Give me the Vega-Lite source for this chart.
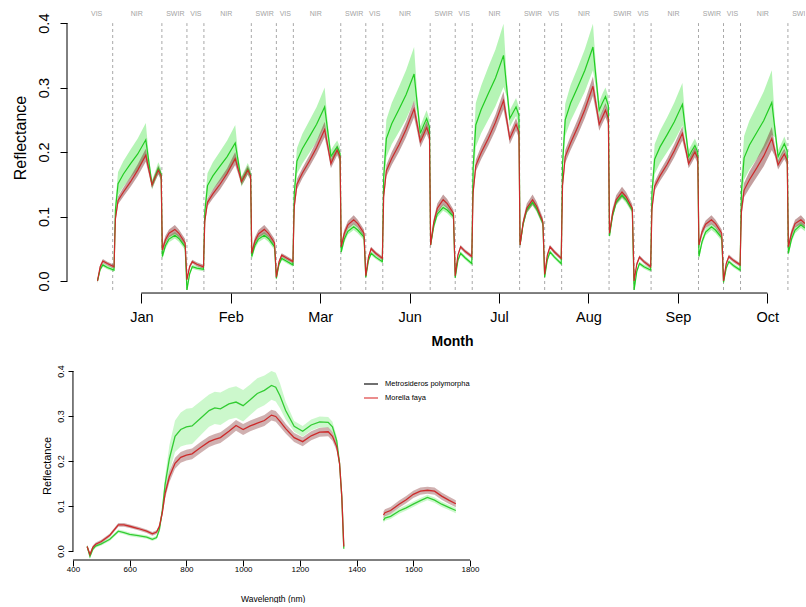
{
"$schema":"https://vega.github.io/schema/vega-lite/v6.json",
"padding":{"left":12,"top":7,"right":0,"bottom":0},
"spacing":15,
"config":{"view":{"stroke":null},"axis":{"labelFont":"Liberation Sans","titleFont":"Liberation Sans","labelColor":"#000","titleColor":"#000","tickColor":"#000","grid":false,"titleFontWeight":"normal"},"text":{"font":"Liberation Sans"}},
"vconcat":[
{
"width":738,"height":283,
"layer":[
{"data":{"values":[{"b":-0.32},{"b":0.23},{"b":0.51},{"b":0.70},{"b":1.23},{"b":1.51},{"b":1.70},{"b":2.23},{"b":2.51},{"b":2.70},{"b":3.23},{"b":3.51},{"b":3.70},{"b":4.23},{"b":4.51},{"b":4.70},{"b":5.23},{"b":5.51},{"b":5.70},{"b":6.23},{"b":6.51},{"b":6.70},{"b":7.23}]},
"mark":{"type":"rule","color":"#a8a8a8","strokeDash":[3,3],"strokeWidth":1},
"encoding":{"x":{"field":"b","type":"quantitative","title":"Month","scale":{"domain":[-0.831,7.421],"nice":false,"zero":false}},"y":{"datum":-0.014,"type":"quantitative","scale":{"domain":[-0.014,0.425],"nice":false,"zero":false}},"y2":{"datum":0.4}}},
{"data":{"values":[{"t":"VIS","p":-0.50},{"t":"NIR","p":-0.05},{"t":"SWIR","p":0.38},{"t":"VIS","p":0.61},{"t":"NIR","p":0.95},{"t":"SWIR","p":1.38},{"t":"VIS","p":1.61},{"t":"NIR","p":1.95},{"t":"SWIR","p":2.38},{"t":"VIS","p":2.61},{"t":"NIR","p":2.95},{"t":"SWIR","p":3.38},{"t":"VIS","p":3.61},{"t":"NIR","p":3.95},{"t":"SWIR","p":4.38},{"t":"VIS","p":4.61},{"t":"NIR","p":4.95},{"t":"SWIR","p":5.38},{"t":"VIS","p":5.61},{"t":"NIR","p":5.95},{"t":"SWIR","p":6.38},{"t":"VIS","p":6.61},{"t":"NIR","p":6.95},{"t":"SWIR","p":7.38}]},
"mark":{"type":"text","color":"#a3a3a3","fontSize":7,"baseline":"middle","clip":true},
"encoding":{"x":{"field":"p","type":"quantitative","title":"Month","scale":{"domain":[-0.831,7.421],"nice":false,"zero":false}},"y":{"datum":0.414,"type":"quantitative","scale":{"domain":[-0.014,0.425],"nice":false,"zero":false}},"text":{"field":"t"}}},
{"data":{"values":[
{"x":-0.49,"r":0.000,"re":0.003,"g":0.000,"ge":0.003},
{"x":-0.46,"r":0.022,"re":0.003,"g":0.018,"ge":0.003},
{"x":-0.43,"r":0.031,"re":0.003,"g":0.025,"ge":0.003},
{"x":-0.38,"r":0.027,"re":0.003,"g":0.021,"ge":0.003},
{"x":-0.305,"r":0.022,"re":0.003,"g":0.017,"ge":0.003},
{"x":-0.29,"r":0.096,"re":0.005,"g":0.110,"ge":0.013},
{"x":-0.26,"r":0.125,"re":0.006,"g":0.151,"ge":0.018},
{"x":-0.20,"r":0.138,"re":0.007,"g":0.166,"ge":0.020},
{"x":-0.12,"r":0.154,"re":0.008,"g":0.182,"ge":0.022},
{"x":-0.04,"r":0.172,"re":0.009,"g":0.197,"ge":0.024},
{"x":0.05,"r":0.195,"re":0.010,"g":0.219,"ge":0.026},
{"x":0.085,"r":0.172,"re":0.007,"g":0.184,"ge":0.009},
{"x":0.12,"r":0.149,"re":0.006,"g":0.149,"ge":0.007},
{"x":0.155,"r":0.161,"re":0.006,"g":0.162,"ge":0.008},
{"x":0.19,"r":0.172,"re":0.007,"g":0.175,"ge":0.009},
{"x":0.222,"r":0.163,"re":0.007,"g":0.166,"ge":0.008},
{"x":0.235,"r":0.048,"re":0.006,"g":0.038,"ge":0.005},
{"x":0.27,"r":0.064,"re":0.006,"g":0.055,"ge":0.005},
{"x":0.31,"r":0.074,"re":0.006,"g":0.065,"ge":0.005},
{"x":0.375,"r":0.080,"re":0.007,"g":0.071,"ge":0.005},
{"x":0.42,"r":0.074,"re":0.006,"g":0.066,"ge":0.005},
{"x":0.49,"r":0.059,"re":0.006,"g":0.053,"ge":0.005},
{"x":0.51,"r":0.002,"re":0.003,"g":-0.014,"ge":0.003},
{"x":0.54,"r":0.022,"re":0.003,"g":0.011,"ge":0.003},
{"x":0.57,"r":0.030,"re":0.003,"g":0.022,"ge":0.003},
{"x":0.62,"r":0.026,"re":0.003,"g":0.020,"ge":0.003},
{"x":0.695,"r":0.022,"re":0.003,"g":0.018,"ge":0.003},
{"x":0.71,"r":0.093,"re":0.005,"g":0.107,"ge":0.014},
{"x":0.74,"r":0.122,"re":0.006,"g":0.148,"ge":0.019},
{"x":0.80,"r":0.135,"re":0.007,"g":0.163,"ge":0.021},
{"x":0.88,"r":0.150,"re":0.008,"g":0.178,"ge":0.023},
{"x":0.96,"r":0.167,"re":0.008,"g":0.193,"ge":0.025},
{"x":1.05,"r":0.190,"re":0.010,"g":0.214,"ge":0.028},
{"x":1.085,"r":0.172,"re":0.007,"g":0.184,"ge":0.009},
{"x":1.12,"r":0.154,"re":0.006,"g":0.154,"ge":0.008},
{"x":1.155,"r":0.163,"re":0.007,"g":0.164,"ge":0.008},
{"x":1.19,"r":0.172,"re":0.007,"g":0.174,"ge":0.009},
{"x":1.222,"r":0.163,"re":0.007,"g":0.165,"ge":0.008},
{"x":1.235,"r":0.043,"re":0.006,"g":0.038,"ge":0.005},
{"x":1.27,"r":0.062,"re":0.006,"g":0.055,"ge":0.005},
{"x":1.31,"r":0.073,"re":0.006,"g":0.065,"ge":0.005},
{"x":1.375,"r":0.080,"re":0.007,"g":0.071,"ge":0.005},
{"x":1.42,"r":0.074,"re":0.006,"g":0.066,"ge":0.005},
{"x":1.49,"r":0.059,"re":0.006,"g":0.053,"ge":0.005},
{"x":1.51,"r":0.006,"re":0.003,"g":0.004,"ge":0.003},
{"x":1.54,"r":0.030,"re":0.003,"g":0.026,"ge":0.003},
{"x":1.57,"r":0.040,"re":0.003,"g":0.035,"ge":0.003},
{"x":1.62,"r":0.036,"re":0.003,"g":0.031,"ge":0.003},
{"x":1.695,"r":0.030,"re":0.003,"g":0.025,"ge":0.003},
{"x":1.71,"r":0.115,"re":0.006,"g":0.135,"ge":0.015},
{"x":1.74,"r":0.150,"re":0.008,"g":0.186,"ge":0.020},
{"x":1.80,"r":0.167,"re":0.008,"g":0.205,"ge":0.023},
{"x":1.88,"r":0.186,"re":0.009,"g":0.224,"ge":0.025},
{"x":1.96,"r":0.207,"re":0.010,"g":0.243,"ge":0.027},
{"x":2.05,"r":0.235,"re":0.012,"g":0.270,"ge":0.030},
{"x":2.085,"r":0.209,"re":0.008,"g":0.232,"ge":0.012},
{"x":2.12,"r":0.182,"re":0.007,"g":0.193,"ge":0.010},
{"x":2.155,"r":0.193,"re":0.008,"g":0.201,"ge":0.010},
{"x":2.19,"r":0.203,"re":0.008,"g":0.208,"ge":0.010},
{"x":2.222,"r":0.193,"re":0.008,"g":0.198,"ge":0.010},
{"x":2.235,"r":0.053,"re":0.006,"g":0.045,"ge":0.005},
{"x":2.27,"r":0.074,"re":0.006,"g":0.065,"ge":0.005},
{"x":2.31,"r":0.087,"re":0.006,"g":0.077,"ge":0.005},
{"x":2.375,"r":0.095,"re":0.007,"g":0.084,"ge":0.005},
{"x":2.42,"r":0.089,"re":0.006,"g":0.079,"ge":0.005},
{"x":2.49,"r":0.074,"re":0.006,"g":0.068,"ge":0.005},
{"x":2.51,"r":0.008,"re":0.003,"g":0.006,"ge":0.003},
{"x":2.54,"r":0.037,"re":0.003,"g":0.032,"ge":0.003},
{"x":2.57,"r":0.050,"re":0.003,"g":0.043,"ge":0.003},
{"x":2.62,"r":0.043,"re":0.003,"g":0.037,"ge":0.003},
{"x":2.695,"r":0.035,"re":0.003,"g":0.030,"ge":0.003},
{"x":2.71,"r":0.131,"re":0.007,"g":0.161,"ge":0.021},
{"x":2.74,"r":0.171,"re":0.009,"g":0.221,"ge":0.029},
{"x":2.80,"r":0.190,"re":0.010,"g":0.244,"ge":0.032},
{"x":2.88,"r":0.211,"re":0.011,"g":0.266,"ge":0.035},
{"x":2.96,"r":0.235,"re":0.012,"g":0.289,"ge":0.038},
{"x":3.05,"r":0.267,"re":0.013,"g":0.321,"ge":0.042},
{"x":3.085,"r":0.242,"re":0.010,"g":0.275,"ge":0.014},
{"x":3.12,"r":0.216,"re":0.009,"g":0.229,"ge":0.011},
{"x":3.155,"r":0.227,"re":0.009,"g":0.241,"ge":0.012},
{"x":3.19,"r":0.238,"re":0.010,"g":0.252,"ge":0.013},
{"x":3.222,"r":0.226,"re":0.009,"g":0.239,"ge":0.012},
{"x":3.235,"r":0.056,"re":0.006,"g":0.056,"ge":0.005},
{"x":3.27,"r":0.091,"re":0.006,"g":0.085,"ge":0.005},
{"x":3.31,"r":0.113,"re":0.007,"g":0.104,"ge":0.005},
{"x":3.375,"r":0.126,"re":0.008,"g":0.114,"ge":0.005},
{"x":3.42,"r":0.120,"re":0.007,"g":0.110,"ge":0.005},
{"x":3.49,"r":0.105,"re":0.006,"g":0.100,"ge":0.005},
{"x":3.51,"r":0.008,"re":0.003,"g":0.005,"ge":0.003},
{"x":3.54,"r":0.040,"re":0.003,"g":0.032,"ge":0.003},
{"x":3.57,"r":0.053,"re":0.003,"g":0.043,"ge":0.003},
{"x":3.62,"r":0.046,"re":0.003,"g":0.036,"ge":0.003},
{"x":3.695,"r":0.038,"re":0.003,"g":0.027,"ge":0.003},
{"x":3.71,"r":0.137,"re":0.007,"g":0.175,"ge":0.025},
{"x":3.74,"r":0.179,"re":0.009,"g":0.242,"ge":0.034},
{"x":3.80,"r":0.199,"re":0.010,"g":0.266,"ge":0.037},
{"x":3.88,"r":0.221,"re":0.011,"g":0.291,"ge":0.041},
{"x":3.96,"r":0.246,"re":0.012,"g":0.315,"ge":0.044},
{"x":4.05,"r":0.280,"re":0.014,"g":0.350,"ge":0.049},
{"x":4.085,"r":0.251,"re":0.010,"g":0.301,"ge":0.015},
{"x":4.12,"r":0.221,"re":0.009,"g":0.252,"ge":0.013},
{"x":4.155,"r":0.232,"re":0.009,"g":0.261,"ge":0.013},
{"x":4.19,"r":0.243,"re":0.010,"g":0.270,"ge":0.014},
{"x":4.222,"r":0.231,"re":0.009,"g":0.257,"ge":0.013},
{"x":4.235,"r":0.056,"re":0.006,"g":0.056,"ge":0.005},
{"x":4.27,"r":0.091,"re":0.006,"g":0.089,"ge":0.005},
{"x":4.31,"r":0.113,"re":0.007,"g":0.110,"ge":0.005},
{"x":4.375,"r":0.126,"re":0.008,"g":0.122,"ge":0.005},
{"x":4.42,"r":0.116,"re":0.007,"g":0.112,"ge":0.005},
{"x":4.49,"r":0.092,"re":0.006,"g":0.090,"ge":0.005},
{"x":4.51,"r":0.010,"re":0.003,"g":0.006,"ge":0.003},
{"x":4.54,"r":0.040,"re":0.003,"g":0.033,"ge":0.003},
{"x":4.57,"r":0.053,"re":0.003,"g":0.045,"ge":0.003},
{"x":4.62,"r":0.045,"re":0.003,"g":0.037,"ge":0.003},
{"x":4.695,"r":0.035,"re":0.003,"g":0.027,"ge":0.003},
{"x":4.71,"r":0.148,"re":0.007,"g":0.182,"ge":0.018},
{"x":4.74,"r":0.193,"re":0.010,"g":0.250,"ge":0.025},
{"x":4.80,"r":0.214,"re":0.011,"g":0.276,"ge":0.028},
{"x":4.88,"r":0.239,"re":0.012,"g":0.301,"ge":0.030},
{"x":4.96,"r":0.266,"re":0.013,"g":0.327,"ge":0.033},
{"x":5.05,"r":0.302,"re":0.015,"g":0.363,"ge":0.036},
{"x":5.085,"r":0.273,"re":0.011,"g":0.314,"ge":0.016},
{"x":5.12,"r":0.243,"re":0.010,"g":0.265,"ge":0.013},
{"x":5.155,"r":0.254,"re":0.010,"g":0.276,"ge":0.014},
{"x":5.19,"r":0.265,"re":0.011,"g":0.286,"ge":0.014},
{"x":5.222,"r":0.252,"re":0.010,"g":0.272,"ge":0.014},
{"x":5.235,"r":0.074,"re":0.006,"g":0.070,"ge":0.005},
{"x":5.27,"r":0.106,"re":0.007,"g":0.102,"ge":0.005},
{"x":5.31,"r":0.126,"re":0.007,"g":0.122,"ge":0.005},
{"x":5.375,"r":0.138,"re":0.008,"g":0.133,"ge":0.005},
{"x":5.42,"r":0.131,"re":0.007,"g":0.126,"ge":0.005},
{"x":5.49,"r":0.113,"re":0.006,"g":0.110,"ge":0.005},
{"x":5.51,"r":0.000,"re":0.003,"g":-0.014,"ge":0.003},
{"x":5.54,"r":0.026,"re":0.003,"g":0.015,"ge":0.003},
{"x":5.57,"r":0.037,"re":0.003,"g":0.027,"ge":0.003},
{"x":5.62,"r":0.030,"re":0.003,"g":0.022,"ge":0.003},
{"x":5.695,"r":0.022,"re":0.003,"g":0.017,"ge":0.003},
{"x":5.71,"r":0.112,"re":0.006,"g":0.137,"ge":0.016},
{"x":5.74,"r":0.147,"re":0.007,"g":0.189,"ge":0.023},
{"x":5.80,"r":0.163,"re":0.008,"g":0.208,"ge":0.025},
{"x":5.88,"r":0.181,"re":0.009,"g":0.227,"ge":0.027},
{"x":5.96,"r":0.202,"re":0.010,"g":0.247,"ge":0.030},
{"x":6.05,"r":0.229,"re":0.011,"g":0.274,"ge":0.033},
{"x":6.085,"r":0.206,"re":0.008,"g":0.234,"ge":0.012},
{"x":6.12,"r":0.182,"re":0.007,"g":0.193,"ge":0.010},
{"x":6.155,"r":0.191,"re":0.008,"g":0.202,"ge":0.010},
{"x":6.19,"r":0.200,"re":0.008,"g":0.210,"ge":0.011},
{"x":6.222,"r":0.190,"re":0.008,"g":0.200,"ge":0.010},
{"x":6.235,"r":0.056,"re":0.006,"g":0.038,"ge":0.005},
{"x":6.27,"r":0.076,"re":0.006,"g":0.061,"ge":0.005},
{"x":6.31,"r":0.088,"re":0.006,"g":0.076,"ge":0.005},
{"x":6.375,"r":0.095,"re":0.007,"g":0.084,"ge":0.005},
{"x":6.42,"r":0.089,"re":0.006,"g":0.079,"ge":0.005},
{"x":6.49,"r":0.074,"re":0.006,"g":0.067,"ge":0.005},
{"x":6.51,"r":0.000,"re":0.003,"g":-0.002,"ge":0.003},
{"x":6.54,"r":0.027,"re":0.003,"g":0.020,"ge":0.003},
{"x":6.57,"r":0.038,"re":0.003,"g":0.030,"ge":0.003},
{"x":6.62,"r":0.032,"re":0.003,"g":0.024,"ge":0.003},
{"x":6.695,"r":0.025,"re":0.003,"g":0.017,"ge":0.003},
{"x":6.71,"r":0.108,"re":0.009,"g":0.139,"ge":0.025},
{"x":6.74,"r":0.141,"re":0.011,"g":0.191,"ge":0.034},
{"x":6.80,"r":0.157,"re":0.013,"g":0.211,"ge":0.038},
{"x":6.88,"r":0.175,"re":0.014,"g":0.230,"ge":0.041},
{"x":6.96,"r":0.194,"re":0.016,"g":0.249,"ge":0.045},
{"x":7.05,"r":0.221,"re":0.018,"g":0.277,"ge":0.050},
{"x":7.085,"r":0.201,"re":0.008,"g":0.235,"ge":0.012},
{"x":7.12,"r":0.180,"re":0.007,"g":0.193,"ge":0.010},
{"x":7.155,"r":0.189,"re":0.008,"g":0.203,"ge":0.010},
{"x":7.19,"r":0.197,"re":0.008,"g":0.213,"ge":0.011},
{"x":7.222,"r":0.187,"re":0.007,"g":0.202,"ge":0.010},
{"x":7.235,"r":0.053,"re":0.006,"g":0.043,"ge":0.005},
{"x":7.27,"r":0.074,"re":0.006,"g":0.065,"ge":0.005},
{"x":7.31,"r":0.089,"re":0.006,"g":0.079,"ge":0.005},
{"x":7.375,"r":0.095,"re":0.007,"g":0.087,"ge":0.005},
{"x":7.42,"r":0.089,"re":0.006,"g":0.082,"ge":0.005}
]},
"layer":[
{"mark":{"type":"errorband","color":"#5ce65c","opacity":0.45,"clip":true},
"encoding":{"x":{"field":"x","type":"quantitative","title":"Month","scale":{"domain":[-0.831,7.421],"nice":false,"zero":false}},"y":{"field":"g","type":"quantitative","title":"Reflectance","scale":{"domain":[-0.014,0.425],"nice":false,"zero":false}},"yError":{"field":"ge"}}},
{"mark":{"type":"errorband","color":"#7a2a2a","opacity":0.45,"clip":true},
"encoding":{"x":{"field":"x","type":"quantitative","title":"Month","scale":{"domain":[-0.831,7.421],"nice":false,"zero":false}},"y":{"field":"r","type":"quantitative","title":"Reflectance","scale":{"domain":[-0.014,0.425],"nice":false,"zero":false}},"yError":{"field":"re"}}},
{"mark":{"type":"line","color":"#22cc22","strokeWidth":1.2,"clip":true},
"encoding":{"x":{"field":"x","type":"quantitative","title":"Month","scale":{"domain":[-0.831,7.421],"nice":false,"zero":false},
"axis":{"title":"Month","values":[0,1,2,3,4,5,6,7],"labelExpr":"['Jan','Feb','Mar','Jun','Jul','Aug','Sep','Oct'][datum.value]","domain":false,"tickSize":10,"offset":3,"labelFontSize":14.5,"labelPadding":7,"labelFlush":false,"labelOverlap":false,"titleFontSize":14,"titleFontWeight":"bold","titlePadding":11,"titleX":385}},
"y":{"field":"g","type":"quantitative","title":"Reflectance","scale":{"domain":[-0.014,0.425],"nice":false,"zero":false},
"axis":{"title":"Reflectance","values":[0,0.1,0.2,0.3,0.4],"format":".1f","domain":false,"tickSize":7,"labelAngle":-90,"labelAlign":"center","labelBaseline":"bottom","labelFontSize":14.5,"labelPadding":9,"titleFontSize":16,"titlePadding":8,"titleY":130.5,"minExtent":31,"maxExtent":31}}}},
{"mark":{"type":"line","color":"#cc2a2a","strokeWidth":1.2,"clip":true},
"encoding":{"x":{"field":"x","type":"quantitative","title":"Month","scale":{"domain":[-0.831,7.421],"nice":false,"zero":false}},"y":{"field":"r","type":"quantitative","title":"Reflectance","scale":{"domain":[-0.014,0.425],"nice":false,"zero":false}}}}
]},
{"data":{"values":[{}]},"mark":{"type":"rule","color":"#000","strokeWidth":1},
"encoding":{"x":{"datum":0,"type":"quantitative","scale":{"domain":[-0.831,7.421],"nice":false,"zero":false}},"x2":{"datum":7},"y":{"datum":-0.0187,"type":"quantitative","scale":{"domain":[-0.014,0.425],"nice":false,"zero":false}}}},
{"data":{"values":[{}]},"mark":{"type":"rule","color":"#000","strokeWidth":1},
"encoding":{"x":{"datum":-0.831,"type":"quantitative","scale":{"domain":[-0.831,7.421],"nice":false,"zero":false}},"y":{"datum":0,"type":"quantitative","scale":{"domain":[-0.014,0.425],"nice":false,"zero":false}},"y2":{"datum":0.4}}}
]
},
{
"width":403,"height":189,
"layer":[
{"data":{"values":[
{"w":450,"s":"a","r":0.010,"re":0.004,"g":0.010,"ge":0.004},
{"w":460,"s":"a","r":-0.008,"re":0.004,"g":-0.012,"ge":0.004},
{"w":470,"s":"a","r":0.008,"re":0.004,"g":0.004,"ge":0.004},
{"w":480,"s":"a","r":0.015,"re":0.004,"g":0.011,"ge":0.004},
{"w":500,"s":"a","r":0.021,"re":0.004,"g":0.016,"ge":0.004},
{"w":530,"s":"a","r":0.035,"re":0.004,"g":0.026,"ge":0.004},
{"w":560,"s":"a","r":0.058,"re":0.004,"g":0.044,"ge":0.004},
{"w":580,"s":"a","r":0.058,"re":0.004,"g":0.041,"ge":0.004},
{"w":600,"s":"a","r":0.055,"re":0.004,"g":0.037,"ge":0.004},
{"w":630,"s":"a","r":0.050,"re":0.004,"g":0.034,"ge":0.004},
{"w":660,"s":"a","r":0.044,"re":0.004,"g":0.031,"ge":0.004},
{"w":680,"s":"a","r":0.038,"re":0.004,"g":0.026,"ge":0.004},
{"w":695,"s":"a","r":0.042,"re":0.004,"g":0.030,"ge":0.004},
{"w":705,"s":"a","r":0.055,"re":0.005,"g":0.048,"ge":0.006},
{"w":715,"s":"a","r":0.085,"re":0.008,"g":0.090,"ge":0.010},
{"w":725,"s":"a","r":0.128,"re":0.010,"g":0.148,"ge":0.018},
{"w":740,"s":"a","r":0.165,"re":0.012,"g":0.205,"ge":0.030},
{"w":760,"s":"a","r":0.195,"re":0.012,"g":0.255,"ge":0.035},
{"w":780,"s":"a","r":0.208,"re":0.012,"g":0.270,"ge":0.038},
{"w":800,"s":"a","r":0.213,"re":0.012,"g":0.276,"ge":0.040},
{"w":820,"s":"a","r":0.216,"re":0.012,"g":0.278,"ge":0.040},
{"w":850,"s":"a","r":0.230,"re":0.012,"g":0.295,"ge":0.038},
{"w":880,"s":"a","r":0.243,"re":0.012,"g":0.312,"ge":0.036},
{"w":900,"s":"a","r":0.248,"re":0.012,"g":0.318,"ge":0.036},
{"w":920,"s":"a","r":0.252,"re":0.012,"g":0.316,"ge":0.036},
{"w":950,"s":"a","r":0.266,"re":0.012,"g":0.327,"ge":0.035},
{"w":975,"s":"a","r":0.279,"re":0.012,"g":0.331,"ge":0.035},
{"w":1000,"s":"a","r":0.270,"re":0.012,"g":0.323,"ge":0.035},
{"w":1025,"s":"a","r":0.278,"re":0.012,"g":0.336,"ge":0.034},
{"w":1050,"s":"a","r":0.284,"re":0.012,"g":0.350,"ge":0.034},
{"w":1075,"s":"a","r":0.290,"re":0.012,"g":0.357,"ge":0.033},
{"w":1100,"s":"a","r":0.302,"re":0.012,"g":0.368,"ge":0.032},
{"w":1115,"s":"a","r":0.299,"re":0.012,"g":0.364,"ge":0.032},
{"w":1130,"s":"a","r":0.288,"re":0.012,"g":0.345,"ge":0.028},
{"w":1150,"s":"a","r":0.272,"re":0.011,"g":0.312,"ge":0.020},
{"w":1180,"s":"a","r":0.252,"re":0.010,"g":0.277,"ge":0.012},
{"w":1210,"s":"a","r":0.243,"re":0.010,"g":0.266,"ge":0.012},
{"w":1240,"s":"a","r":0.256,"re":0.010,"g":0.280,"ge":0.012},
{"w":1270,"s":"a","r":0.264,"re":0.010,"g":0.287,"ge":0.012},
{"w":1300,"s":"a","r":0.265,"re":0.010,"g":0.286,"ge":0.012},
{"w":1315,"s":"a","r":0.255,"re":0.010,"g":0.276,"ge":0.011},
{"w":1330,"s":"a","r":0.232,"re":0.009,"g":0.245,"ge":0.010},
{"w":1340,"s":"a","r":0.195,"re":0.008,"g":0.195,"ge":0.008},
{"w":1348,"s":"a","r":0.120,"re":0.006,"g":0.120,"ge":0.006},
{"w":1355,"s":"a","r":0.010,"re":0.004,"g":0.005,"ge":0.004},
{"w":1495,"s":"b","r":0.080,"re":0.008,"g":0.068,"ge":0.006},
{"w":1500,"s":"b","r":0.085,"re":0.008,"g":0.073,"ge":0.006},
{"w":1520,"s":"b","r":0.090,"re":0.008,"g":0.077,"ge":0.006},
{"w":1550,"s":"b","r":0.104,"re":0.008,"g":0.089,"ge":0.006},
{"w":1575,"s":"b","r":0.114,"re":0.008,"g":0.096,"ge":0.006},
{"w":1600,"s":"b","r":0.126,"re":0.008,"g":0.104,"ge":0.006},
{"w":1625,"s":"b","r":0.133,"re":0.008,"g":0.112,"ge":0.006},
{"w":1650,"s":"b","r":0.135,"re":0.008,"g":0.119,"ge":0.006},
{"w":1675,"s":"b","r":0.133,"re":0.008,"g":0.113,"ge":0.006},
{"w":1700,"s":"b","r":0.122,"re":0.008,"g":0.104,"ge":0.006},
{"w":1725,"s":"b","r":0.113,"re":0.008,"g":0.097,"ge":0.006},
{"w":1750,"s":"b","r":0.105,"re":0.008,"g":0.090,"ge":0.006}
]},
"layer":[
{"mark":{"type":"errorband","color":"#8ef08e","opacity":0.45},
"encoding":{"x":{"field":"w","type":"quantitative","title":"Wavelength (nm)","scale":{"domain":[379,1800],"nice":false,"zero":false}},"y":{"field":"g","type":"quantitative","title":"Reflectance","scale":{"domain":[-0.02,0.4],"nice":false,"zero":false}},"yError":{"field":"ge"},"detail":{"field":"s"}}},
{"mark":{"type":"errorband","color":"#8a3a3a","opacity":0.4},
"encoding":{"x":{"field":"w","type":"quantitative","title":"Wavelength (nm)","scale":{"domain":[379,1800],"nice":false,"zero":false}},"y":{"field":"r","type":"quantitative","title":"Reflectance","scale":{"domain":[-0.02,0.4],"nice":false,"zero":false}},"yError":{"field":"re"},"detail":{"field":"s"}}},
{"mark":{"type":"line","color":"#33cc33","strokeWidth":1.3},
"encoding":{"x":{"field":"w","type":"quantitative","title":"Wavelength (nm)","scale":{"domain":[379,1800],"nice":false,"zero":false},
"axis":{"title":"Wavelength (nm)","values":[400,600,800,1000,1200,1400,1600,1800],"format":"d","domain":false,"tickSize":6,"labelFontSize":8,"labelPadding":-1,"labelFlush":false,"labelOverlap":false,"titleFontSize":8.5,"titlePadding":21,"titleX":205.7}},
"y":{"field":"g","type":"quantitative","title":"Reflectance","scale":{"domain":[-0.02,0.4],"nice":false,"zero":false},
"axis":{"title":"Reflectance","values":[0,0.1,0.2,0.3,0.4],"format":".1f","domain":false,"tickSize":5,"offset":-6,"labelAngle":-90,"labelAlign":"center","labelBaseline":"bottom","labelFontSize":9,"labelPadding":3,"titleFontSize":11,"titlePadding":4,"minExtent":17,"maxExtent":17}},
"detail":{"field":"s"}}},
{"mark":{"type":"line","color":"#cc2a2a","strokeWidth":1.3},
"encoding":{"x":{"field":"w","type":"quantitative","title":"Wavelength (nm)","scale":{"domain":[379,1800],"nice":false,"zero":false}},"y":{"field":"r","type":"quantitative","title":"Reflectance","scale":{"domain":[-0.02,0.4],"nice":false,"zero":false}},"detail":{"field":"s"}}}
]},
{"data":{"values":[{"sp":"Metrosideros polymorpha","w":400,"v":0},{"sp":"Morella faya","w":400,"v":0}]},
"mark":{"type":"line","opacity":0},
"encoding":{"x":{"field":"w","type":"quantitative","title":"Wavelength (nm)","scale":{"domain":[379,1800],"nice":false,"zero":false}},"y":{"field":"v","type":"quantitative","title":"Reflectance","scale":{"domain":[-0.02,0.4],"nice":false,"zero":false}},
"color":{"field":"sp","type":"nominal","scale":{"domain":["Metrosideros polymorpha","Morella faya"],"range":["#222222","#e05050"]},
"legend":{"orient":"none","legendX":296,"legendY":369,"title":null,"symbolType":"stroke","symbolSize":196,"symbolStrokeWidth":1.3,"symbolOpacity":1,"labelFontSize":7.5,"labelColor":"#000","labelOffset":6,"rowPadding":2}}}},
{"data":{"values":[{}]},"mark":{"type":"rule","color":"#000","strokeWidth":1},
"encoding":{"x":{"datum":400,"type":"quantitative","scale":{"domain":[379,1800],"nice":false,"zero":false}},"x2":{"datum":1800},"y":{"datum":-0.02,"type":"quantitative","scale":{"domain":[-0.02,0.4],"nice":false,"zero":false}}}},
{"data":{"values":[{}]},"mark":{"type":"rule","color":"#000","strokeWidth":1},
"encoding":{"x":{"datum":400,"type":"quantitative","scale":{"domain":[379,1800],"nice":false,"zero":false}},"y":{"datum":0,"type":"quantitative","scale":{"domain":[-0.02,0.4],"nice":false,"zero":false}},"y2":{"datum":0.4}}}
]
}
]
}
